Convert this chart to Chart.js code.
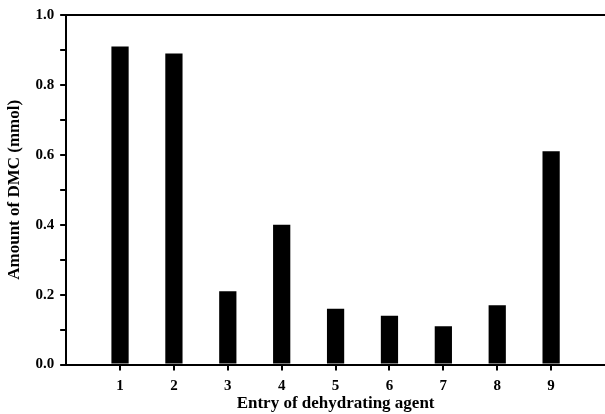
<!DOCTYPE html>
<html>
<head>
<meta charset="utf-8">
<script src="https://cdn.jsdelivr.net/npm/chart.js@4/dist/chart.umd.min.js"></script>
<style>
  html, body { margin: 0; padding: 0; background: #fff; }
  #wrap { width: 605px; height: 414px; }
</style>
</head>
<body>
<div id="wrap"><canvas id="dmc_chart"></canvas></div>
<script>
const entries = [1, 2, 3, 4, 5, 6, 7, 8, 9]
const dmcAmount = [0.91, 0.89, 0.21, 0.40, 0.16, 0.14, 0.11, 0.17, 0.61]
const yLabels = ['0.0', '0.2', '0.4', '0.6', '0.8', '1.0']

const font = { family: 'Liberation Serif', weight: 'bold', size: 15 }
const titleFont = { family: 'Liberation Serif', weight: 'bold', size: 17 }

const ctx = document.getElementById('dmc_chart').getContext('2d')

new Chart(ctx, {
  type: 'bar',
  data: {
    datasets: [
      {
        data: entries.map((e, i) => ({ x: e, y: dmcAmount[i] })),
        backgroundColor: '#000',
        borderWidth: 0,
        barPercentage: 0.32,
        categoryPercentage: 1,
      },
    ],
  },
  options: {
    responsive: true,
    maintainAspectRatio: false,
    animation: false,
    layout: { padding: { top: 2, right: 0, left: 4, bottom: 0 } },
    plugins: {
      legend: { display: false },
      tooltip: { enabled: false },
    },
    scales: {
      x: {
        type: 'linear',
        min: 0,
        max: 10,
        offset: false,
        afterBuildTicks: (axis) => {
          axis.ticks = entries.map((v) => ({ value: v }))
        },
        grid: {
          offset: false,
          drawOnChartArea: false,
          color: '#000',
          lineWidth: 2,
          tickLength: 6,
        },
        border: { color: '#000', width: 2 },
        ticks: { color: '#000', font: font, padding: 7 },
        title: {
          display: true,
          text: 'Entry of dehydrating agent',
          color: '#000',
          font: titleFont,
          padding: { top: -9, bottom: 0 },
        },
      },
      xTop: {
        type: 'linear',
        position: 'top',
        min: 0,
        max: 10,
        grid: { display: false },
        ticks: { display: false },
        border: { color: '#000', width: 2 },
      },
      y: {
        min: 0,
        max: 1,
        ticks: {
          stepSize: 0.1,
          color: '#000',
          font: font,
          padding: 6,
          callback: (v) => {
            const i = Math.round(v * 10)
            return i % 2 === 0 ? yLabels[i / 2] : ''
          },
        },
        grid: {
          drawOnChartArea: false,
          color: '#000',
          lineWidth: 2,
          tickLength: 6,
        },
        border: { color: '#000', width: 2 },
        title: {
          display: true,
          text: 'Amount of DMC (mmol)',
          color: '#000',
          font: titleFont,
          padding: { top: 0, bottom: 5 },
        },
      },
    },
  },
})
</script>
</body>
</html>
